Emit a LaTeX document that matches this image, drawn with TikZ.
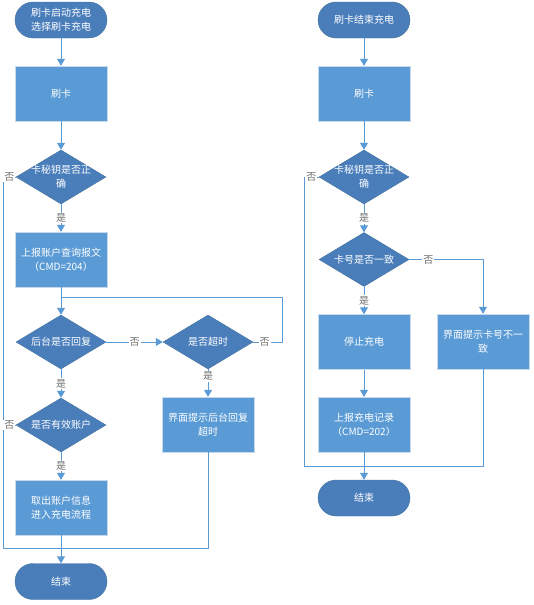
\documentclass[tikz,border=0pt]{standalone}
\usepackage{fontspec}
\setmainfont{Noto Sans CJK SC}
\usetikzlibrary{arrows.meta,shapes.geometric}

\definecolor{termblue}{HTML}{4A7EBB}
\definecolor{termedge}{HTML}{41719C}
\definecolor{procblue}{HTML}{5B9BD5}
\definecolor{procedge}{HTML}{C9D9EC}
\definecolor{lineblue}{HTML}{5B9BD5}
\definecolor{lblgray}{HTML}{707070}

\tikzset{
    term/.style={rectangle, rounded corners=18pt, fill=termblue, draw=termedge,
        minimum width=92pt, minimum height=36pt, inner sep=0pt,
        text=white, align=center, font=\fontsize{10}{14}\selectfont},
    proc/.style={rectangle, fill=procblue, draw=procedge,
        minimum width=92pt, minimum height=55pt, inner sep=0pt,
        text=white, align=center, font=\fontsize{10}{14}\selectfont},
    decide/.style={diamond, aspect=1.67, fill=termblue, draw=termedge,
        minimum width=90pt, minimum height=54pt, inner xsep=-5pt, inner ysep=-3pt,
        text=white, align=center, font=\fontsize{10}{14}\selectfont},
    flow/.style={draw=lineblue, line width=1pt, -{Triangle[length=7pt,width=8pt]}},
    link/.style={draw=lineblue, line width=1pt},
    lbl/.style={fill=white, text=lblgray, inner sep=1pt, font=\fontsize{10}{11}\selectfont},
}

\begin{document}
\begin{tikzpicture}[x=1pt, y=-1pt]
    \useasboundingbox (0,0) rectangle (533,605);

    % swipe card to start charging
    \begin{scope}
        \node[term] (startA) at (61,20) {刷卡启动充电\\选择刷卡充电};
        \node[proc] (swipeA) at (61,93.5) {刷卡};
        \node[decide] (keyA) at (61,177) {卡秘钥是否正\\确};
        \node[proc] (queryA) at (61,259.5) {上报账户查询报文\\（CMD=204）};
        \node[decide] (replyA) at (61,342) {后台是否回复};
        \node[decide] (timeoutA) at (208,342) {是否超时};
        \node[proc] (tipA) at (208,424.5) {界面提示后台回复\\超时};
        \node[decide] (validA) at (61,425) {是否有效账户};
        \node[proc] (takeA) at (61,507.5) {取出账户信息\\进入充电流程};
        \node[term] (endA) at (61,581.5) {结束};

        \coordinate (joinA) at (61,297);
        \coordinate (loopA) at (282,297);
        \coordinate (sideA) at (3,548);
        \coordinate (mergeA) at (61,548);

        \draw[flow] (startA) -- (swipeA);
        \draw[flow] (swipeA) -- (keyA);
        \draw[flow] (keyA) -- node[lbl] {是} (queryA);
        \draw[flow] (queryA) -- (replyA);
        \draw[flow] (replyA) -- node[lbl] {否} (timeoutA);
        \draw[link] (timeoutA.east) -| node[lbl, pos=0.2] {否} (loopA) -- (joinA);
        \draw[flow] (timeoutA) -- node[lbl, pos=0.25] {是} (tipA);
        \draw[flow] (replyA) -- node[lbl] {是} (validA);
        \draw[flow] (validA) -- node[lbl] {是} (takeA);
        \draw[flow] (takeA) -- (endA);
        \draw[link] (keyA.west) -| node[lbl, pos=0.25] {否} (sideA) -- (mergeA);
        \draw[link] (validA.west) -- node[lbl] {否} (validA.west -| sideA);
        \draw[link] (tipA.south) |- (mergeA);
    \end{scope}

    % swipe card to stop charging
    \begin{scope}
        \node[term] (startB) at (364,20) {刷卡结束充电};
        \node[proc] (swipeB) at (364,93.5) {刷卡};
        \node[decide] (keyB) at (364,177) {卡秘钥是否正\\确};
        \node[decide] (cardB) at (364,259.5) {卡号是否一致};
        \node[proc] (stopB) at (364,342) {停止充电};
        \node[proc] (tipB) at (483,341.5) {界面提示卡号不一\\致};
        \node[proc] (recordB) at (364,424.5) {上报充电记录\\（CMD=202）};
        \node[term] (endB) at (364,498) {结束};

        \coordinate (sideB) at (304,466);
        \coordinate (mergeB) at (364,466);

        \draw[flow] (startB) -- (swipeB);
        \draw[flow] (swipeB) -- (keyB);
        \draw[flow] (keyB) -- node[lbl] {是} (cardB);
        \draw[flow] (cardB) -- node[lbl] {是} (stopB);
        \draw[flow] (cardB.east) -| node[lbl, pos=0.13] {否} (tipB.north);
        \draw[flow] (stopB) -- (recordB);
        \draw[flow] (recordB) -- (endB);
        \draw[link] (keyB.west) -| node[lbl, pos=0.25] {否} (sideB) -- (mergeB);
        \draw[link] (tipB.south) |- (mergeB);
    \end{scope}
\end{tikzpicture}
\end{document}
